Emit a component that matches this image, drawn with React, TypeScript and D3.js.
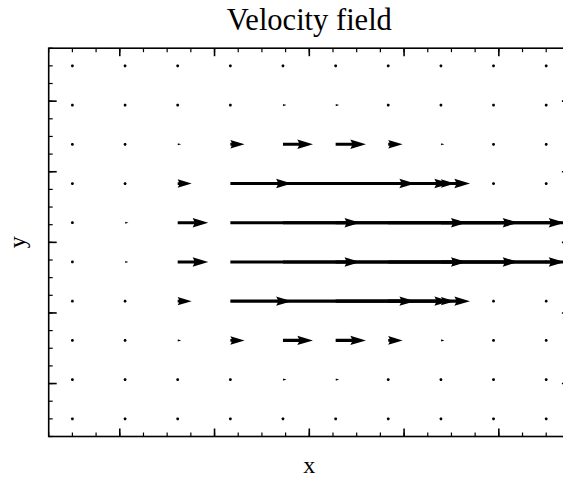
import React from "react";
import * as d3 from "d3";

// Grid positions of the vectors
const xGrid = [-2.5, -1.944, -1.389, -0.833, -0.278, 0.278, 0.833, 1.389, 1.944, 2.5];
const yGrid = [2.5, 1.944, 1.389, 0.833, 0.278, -0.278, -0.833, -1.389, -1.944, -2.5];

// Horizontal velocity u for each row (top to bottom); v = 0 everywhere
const uRow0 = [0, 0, 0, 0, 0.005, 0.005, 0, 0, 0, 0];
const uRow1 = [0, 0, 0.005, 0.017, 0.037, 0.037, 0.017, 0.005, 0, 0];
const uRow2 = [0, 0.005, 0.037, 0.15, 0.317, 0.32, 0.152, 0.037, 0.005, 0];
const uRow3 = [0, 0.017, 0.148, 0.648, 1.394, 1.418, 0.652, 0.148, 0.017, 0];
const uRow4 = [0.005, 0.036, 0.323, 1.37, 2.97, 2.97, 1.373, 0.271, 0.036, 0.005];
const uRow5 = [0.005, 0.036, 0.323, 1.37, 2.97, 2.97, 1.373, 0.271, 0.036, 0.005];
const uRow6 = [0, 0.017, 0.148, 0.648, 1.394, 1.418, 0.652, 0.148, 0.017, 0];
const uRow7 = [0, 0.005, 0.037, 0.15, 0.317, 0.32, 0.152, 0.037, 0.005, 0];
const uRow8 = [0, 0, 0.005, 0.017, 0.037, 0.037, 0.017, 0.005, 0, 0];
const uRow9 = [0, 0, 0, 0, 0.005, 0.005, 0, 0, 0, 0];
const uRows = [uRow0, uRow1, uRow2, uRow3, uRow4, uRow5, uRow6, uRow7, uRow8, uRow9];

const majorTicks = [-2, -1, 0, 1, 2];
const minorTicks = d3.range(-2.75, 2.7501, 0.25);

const titleText = "Velocity field";
const xLabel = "x";
const yLabel = "y";

const W = 563;
const H = 477;

export default function App() {
  const xScale = d3.scaleLinear().domain([-2.75, 2.75]).range([48.7, 569.9]);
  const yScale = d3.scaleLinear().domain([-2.75, 2.75]).range([436.5, 48.2]);
  const [x0, x1] = xScale.range();
  const [y0, y1] = yScale.range();
  const pxPerUnit = xScale(1) - xScale(0);
  const w = 3.13; // shaft width in px
  const line = d3.line<[number, number]>();

  const arrowPath = (L: number): string => {
    let pts: [number, number][] = [];
    if (L < w) {
      for (let k = 0; k < 8; k++) {
        const th = (k * Math.PI) / 3;
        pts.push([Math.cos(th) * w * 0.5, Math.sin(th) * w * 0.5]);
      }
    } else if (L < 5 * w) {
      const s = L / (5 * w);
      const X = [0, 0.5, 0, 5, 0, 0.5, 0, 0];
      const Y = [0.5, 0.5, 1.5, 0, -1.5, -0.5, -0.5, 0.5];
      pts = X.map((xx, i) => [xx * s * w, -Y[i] * s * w] as [number, number]);
    } else {
      const l = L / w;
      const X = [0, l - 4.5, l - 5, l, l - 5, l - 4.5, 0, 0];
      const Y = [0.5, 0.5, 1.5, 0, -1.5, -0.5, -0.5, 0.5];
      pts = X.map((xx, i) => [xx * w, -Y[i] * w] as [number, number]);
    }
    return (line(pts) || "") + "Z";
  };

  const arrows: React.ReactNode[] = [];
  uRows.forEach((row, ri) => {
    row.forEach((u, ci) => {
      const L = u * pxPerUnit;
      arrows.push(
        <path
          key={`a-${ri}-${ci}`}
          d={arrowPath(L)}
          transform={`translate(${xScale(xGrid[ci])},${yScale(yGrid[ri])})`}
          fill="#000"
          stroke="none"
        />
      );
    });
  });

  const majLen = 8;
  const minLen = 4;
  const tickColor = "#000";
  const font = "'Liberation Serif', 'DejaVu Serif', serif";

  return (
    <svg
      width={W}
      height={H}
      style={{ position: "absolute", left: 0, top: 0, background: "#fff" }}
    >
      <defs>
        <clipPath id="plotClip">
          <rect x={x0} y={y1} width={x1 - x0} height={y0 - y1} />
        </clipPath>
      </defs>
      <rect x={0} y={0} width={W} height={H} fill="#fff" />
      <g clipPath="url(#plotClip)">{arrows}</g>

      {/* minor ticks */}
      {minorTicks.map((t, i) => (
        <g key={`mn-${i}`} stroke={tickColor} strokeWidth={1.2}>
          <line x1={xScale(t)} x2={xScale(t)} y1={y0} y2={y0 - minLen} />
          <line x1={xScale(t)} x2={xScale(t)} y1={y1} y2={y1 + minLen} />
          <line x1={x0} x2={x0 + minLen} y1={yScale(t)} y2={yScale(t)} />
          <line x1={x1} x2={x1 - minLen} y1={yScale(t)} y2={yScale(t)} />
        </g>
      ))}
      {/* major ticks */}
      {majorTicks.map((t, i) => (
        <g key={`mj-${i}`} stroke={tickColor} strokeWidth={1.6}>
          <line x1={xScale(t)} x2={xScale(t)} y1={y0} y2={y0 - majLen} />
          <line x1={xScale(t)} x2={xScale(t)} y1={y1} y2={y1 + majLen} />
          <line x1={x0} x2={x0 + majLen} y1={yScale(t)} y2={yScale(t)} />
          <line x1={x1} x2={x1 - majLen} y1={yScale(t)} y2={yScale(t)} />
        </g>
      ))}

      {/* frame */}
      <rect
        x={x0}
        y={y1}
        width={x1 - x0}
        height={y0 - y1}
        fill="none"
        stroke="#000"
        strokeWidth={1.6}
      />

      <text
        x={(x0 + x1) / 2}
        y={30}
        textAnchor="middle"
        fontFamily={font}
        fontSize={30.5}
        fill="#000"
      >
        {titleText}
      </text>
      <text
        x={(x0 + x1) / 2}
        y={472.5}
        textAnchor="middle"
        fontFamily={font}
        fontSize={24}
        fill="#000"
      >
        {xLabel}
      </text>
      <text
        transform={`translate(25,${(y0 + y1) / 2}) rotate(-90)`}
        textAnchor="middle"
        fontFamily={font}
        fontSize={24}
        fill="#000"
      >
        {yLabel}
      </text>
    </svg>
  );
}
